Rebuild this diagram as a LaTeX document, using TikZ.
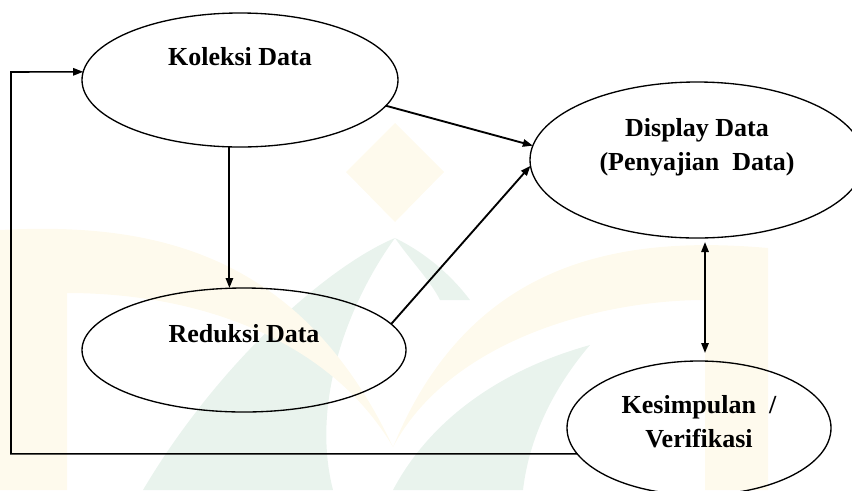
\documentclass[tikz,border=0pt]{standalone}
\usepackage{fontspec}
\setmainfont{Liberation Serif}
\usetikzlibrary{shapes.geometric,arrows.meta,calc}
\definecolor{wm_yellow}{RGB}{254,250,237}
\definecolor{wm_green}{RGB}{233,243,237}

\begin{document}
\begin{tikzpicture}[
  x=0.75pt, y=-0.75pt,
  data_oval/.style={ellipse, draw, line width=1pt, inner sep=0pt, outer sep=0pt},
  oval_text/.style={font=\bfseries\fontsize{19.5}{25.5}\selectfont, align=center, inner sep=0pt},
  flow_arrow/.style={line width=1.4pt, -{Triangle[length=7.5pt,width=5.5pt]}},
  both_arrow/.style={line width=1.4pt, {Triangle[length=7.5pt,width=5.5pt]}-{Triangle[length=7.5pt,width=5.5pt]}},
  back_line/.style={line width=1.2pt, -{Triangle[length=7.5pt,width=5.5pt]}},
]
\useasboundingbox (0,0) rectangle (852,490);

\fill[wm_green] (143,490) .. controls (220,360) and (330,265) .. (395,238) .. controls (350,300) and (310,400) .. (333,490) -- cycle;
\fill[wm_green] (395,238) .. controls (430,255) and (455,280) .. (470,300) -- (440,300) .. controls (430,280) and (410,260) .. (395,238);
\fill[wm_green] (393,490) .. controls (430,420) and (500,370) .. (590,345) .. controls (560,380) and (530,430) .. (523,490) -- cycle;
\fill[wm_yellow] (395,123) -- (444,172) -- (395,222) -- (346,172) -- cycle;
\fill[wm_yellow] (0,490) -- (0,230) .. controls (150,222) and (300,250) .. (393,447) .. controls (330,340) and (200,293) .. (67,293) -- (67,490) -- cycle;
\fill[wm_yellow] (768,490) -- (768,248) .. controls (620,235) and (470,260) .. (393,447) .. controls (450,340) and (600,300) .. (705,300) -- (705,490) -- cycle;

\draw (240,80) node (kol) [data_oval, minimum width=237pt, minimum height=100.5pt] {};
\draw (244,350) node (red) [data_oval, minimum width=243pt, minimum height=93pt] {};
\draw (697,160) node (disp) [data_oval, minimum width=250.5pt, minimum height=117pt] {};
\draw (699,428) node (kes) [data_oval, minimum width=198pt, minimum height=100.5pt] {};

\draw (kol.center) ++(0,-23.5) node (kol_txt) [oval_text] {Koleksi Data};
\draw (red.center) ++(0,-16) node (red_txt) [oval_text] {Reduksi Data};
\draw (disp.center) ++(0,-13) node (disp_txt) [oval_text] {Display Data\\(Penyajian\ \ Data)};
\draw (kes.center) ++(0,-6.5) node (kes_txt) [oval_text] {Kesimpulan\ \ /\\Verifikasi};

\coordinate (back) at (11,72);
\coordinate (both_top) at ($(disp.south)+(8,4)$);

\draw[flow_arrow] (kol.261) -- (kol.261 |- red.north);
\draw[flow_arrow] (kol.-10) -- (disp.175);
\draw[flow_arrow] (red.10.6) -- (disp.182);
\draw[both_arrow, shorten >=6pt] (both_top) -- (both_top |- kes.north);
\draw[back_line] (kes.192) -| (back) -- (kol.177);
\end{tikzpicture}
\end{document}
